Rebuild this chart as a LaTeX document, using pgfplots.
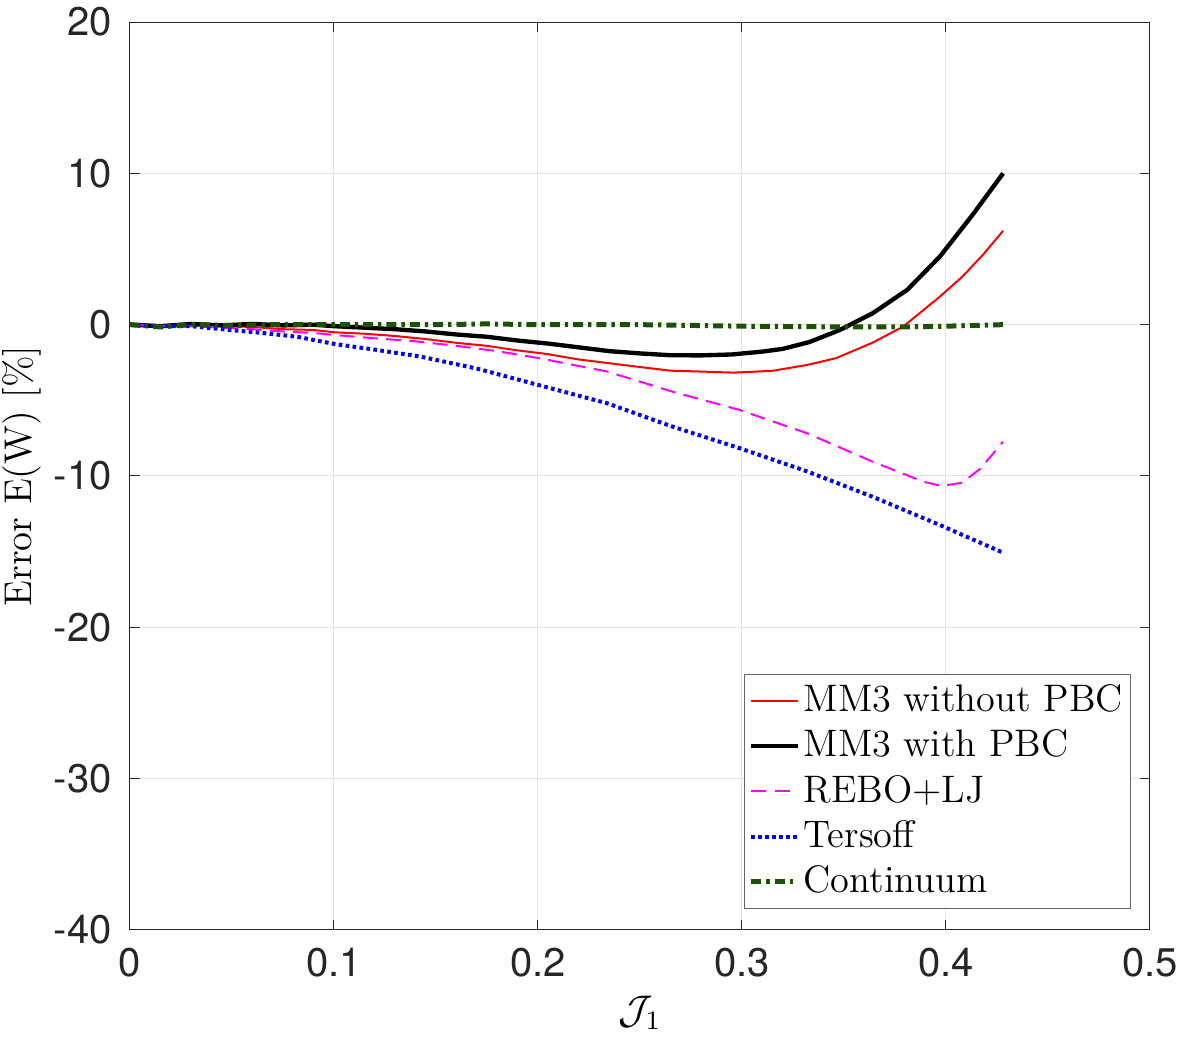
\documentclass[border=0pt]{standalone}
\usepackage{fontspec}
\usepackage{pgfplots}
\pgfplotsset{compat=1.18}
\newfontfamily\ticksf{TeX Gyre Heros}
\definecolor{dgreen}{rgb}{0.11,0.32,0.0}
\definecolor{axgray}{rgb}{0.15,0.15,0.15}
\definecolor{mag}{rgb}{1,0,1}
\begin{document}
\begin{tikzpicture}
\useasboundingbox (-39pt,-39.9pt) rectangle (315.6pt,279pt);
\begin{axis}[
  scale only axis, width=306pt, height=272.4pt,
  at={(0,0)}, anchor=south west,
  xmin=0, xmax=0.5, ymin=-40, ymax=20,
  xtick={0,0.1,0.2,0.3,0.4,0.5}, xticklabels={0,0.1,0.2,0.3,0.4,0.5},
  ytick={-40,-30,-20,-10,0,10,20}, yticklabels={-40,-30,-20,-10,0,10,20},
  tick label style={font=\fontsize{12}{14}\selectfont\ticksf, text=axgray},
  xticklabel style={yshift=-2pt},
  yticklabel style={xshift=-2pt},
  tick align=inside, major tick length=3pt, tick style={axgray, line width=0.3pt},
  axis line style={axgray, line width=0.3pt},
  grid=major, major grid style={gray!22, line width=0.3pt},
  xlabel={$\mathcal{J}_1$}, ylabel={Error E(W) [\%]},
  every axis y label/.style={at={(axis description cs:-0.1059,0.5)}, rotate=90, anchor=center, font=\fontsize{11.6}{13}\selectfont},
  every axis x label/.style={at={(axis description cs:0.5,-0.0914)}, anchor=center, font=\fontsize{11.6}{13}\selectfont},
  legend style={at={(0.981,0.023)}, anchor=south east, draw=black!60, line width=0.3pt,
    font=\fontsize{11.5}{13}\selectfont, row sep=0pt, inner sep=1.2pt,
    nodes={inner xsep=1pt}},
  legend cell align=left,
  legend image code/.code={\draw[#1] (0pt,0pt) -- (14pt,0pt);},
]
\addplot[red, line width=0.6pt] coordinates {
(0,0) (0.015,-0.1) (0.03,-0.05) (0.045,-0.1) (0.06,-0.15) (0.075,-0.3) (0.09,-0.35)
(0.1,-0.5) (0.115,-0.6) (0.13,-0.75) (0.145,-0.95) (0.16,-1.2) (0.175,-1.4) (0.19,-1.7)
(0.205,-1.95) (0.22,-2.3) (0.235,-2.55) (0.25,-2.8) (0.265,-3.04) (0.28,-3.1) (0.296,-3.17)
(0.315,-3.05) (0.332,-2.66) (0.346,-2.22) (0.364,-1.19) (0.379,-0.13) (0.397,1.85)
(0.408,3.17) (0.418,4.6) (0.428,6.2)};
\addlegendentry{MM3 without PBC}
\addplot[black, line width=1.3pt] coordinates {
(0,0) (0.015,-0.1) (0.03,0.05) (0.045,-0.05) (0.06,0.05) (0.075,-0.05) (0.09,0)
(0.1,-0.1) (0.115,-0.2) (0.13,-0.3) (0.145,-0.45) (0.16,-0.65) (0.175,-0.8) (0.19,-1.05)
(0.205,-1.25) (0.22,-1.5) (0.235,-1.75) (0.25,-1.9) (0.265,-2.02) (0.28,-2.03) (0.295,-1.97)
(0.31,-1.78) (0.32,-1.6) (0.333,-1.15) (0.348,-0.35) (0.364,0.75) (0.381,2.3) (0.397,4.5)
(0.413,7.25) (0.428,10.0)};
\addlegendentry{MM3 with PBC}
\addplot[mag, line width=0.6pt, dash pattern=on 4.5pt off 2.5pt] coordinates {
(0,0) (0.015,-0.1) (0.03,-0.1) (0.045,-0.2) (0.06,-0.3) (0.075,-0.45) (0.09,-0.55)
(0.1,-0.68) (0.12,-0.9) (0.14,-1.1) (0.16,-1.4) (0.18,-1.75) (0.2,-2.2) (0.234,-3.1)
(0.266,-4.43) (0.299,-5.64) (0.332,-7.18) (0.364,-9.05) (0.389,-10.38) (0.398,-10.66)
(0.408,-10.44) (0.417,-9.5) (0.428,-7.73)};
\addlegendentry{REBO+LJ}
\addplot[blue, line width=1.2pt, dash pattern=on 1.1pt off 1.0pt] coordinates {
(0,0) (0.015,-0.1) (0.03,-0.1) (0.049,-0.35) (0.065,-0.55) (0.082,-0.8) (0.1,-1.27)
(0.12,-1.65) (0.142,-2.1) (0.17,-2.9) (0.2,-3.98) (0.234,-5.2) (0.266,-6.74) (0.299,-8.17)
(0.332,-9.7) (0.364,-11.37) (0.397,-13.24) (0.428,-15.07)};
\addlegendentry{Tersoff}
\addplot[dgreen, line width=1.5pt, dash pattern=on 3pt off 1.5pt on 1pt off 1.5pt] coordinates {
(0,0) (0.015,-0.15) (0.03,0) (0.05,-0.05) (0.07,0) (0.1,0) (0.15,0) (0.175,0.05)
(0.2,0) (0.25,0) (0.3,-0.1) (0.35,-0.15) (0.38,-0.15) (0.4,-0.1) (0.428,0)};
\addlegendentry{Continuum}
\end{axis}
\end{tikzpicture}
\end{document}
